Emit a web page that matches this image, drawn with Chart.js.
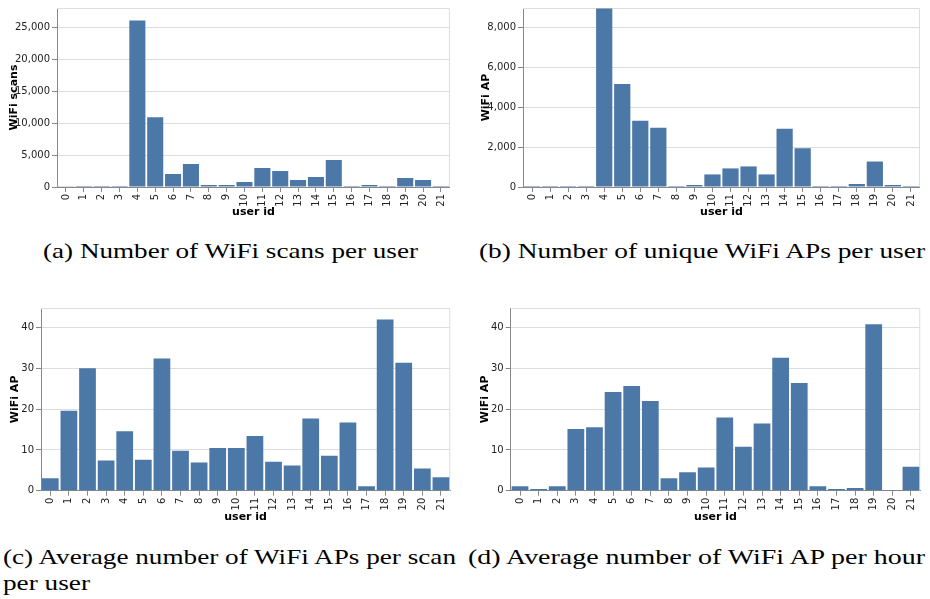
<!DOCTYPE html>
<html>
<head>
<meta charset="utf-8">
<script src="https://cdn.jsdelivr.net/npm/chart.js@4"></script>
<style>
  html, body { margin: 0; padding: 0; background: #fff; }
  body { width: 930px; height: 599px; position: relative; overflow: hidden; }
  .panel { position: absolute; }
  .cap {
    position: absolute;
    font-family: "Liberation Serif", serif;
    font-size: 21px;
    line-height: 21px;
    white-space: nowrap;
    color: #000;
    transform-origin: 0 0;
  }
</style>
</head>
<body>
<div class="panel" style="left:0;top:0;width:455px;height:222px"><canvas id="ca"></canvas></div>
<div class="panel" style="left:470px;top:0;width:455px;height:222px"><canvas id="cb"></canvas></div>
<div class="panel" style="left:0;top:300px;width:455px;height:225px"><canvas id="cc"></canvas></div>
<div class="panel" style="left:470px;top:300px;width:455px;height:225px"><canvas id="cd"></canvas></div>

<span class="cap" data-w="375" style="left:43px;top:241px">(a) Number of WiFi scans per user</span>
<span class="cap" data-w="446" style="left:479px;top:241px">(b) Number of unique WiFi APs per user</span>
<span class="cap" data-w="453" style="left:3px;top:547px">(c) Average number of WiFi APs per scan</span>
<span class="cap" data-w="87" style="left:3px;top:573px">per user</span>
<span class="cap" data-w="457" style="left:468px;top:547px">(d) Average number of WiFi AP per hour</span>

<script>
const userIds = ["0", "1", "2", "3", "4", "5", "6", "7", "8", "9", "10",
  "11", "12", "13", "14", "15", "16", "17", "18", "19", "20", "21"];

// (a) WiFi scans per user
const wifiScans = [30, 156, 156, 156, 26040, 10920, 2030, 3590, 310, 310, 780,
  2960, 2500, 1090, 1560, 4210, 156, 310, 156, 1400, 1090, 156];

// (b) unique WiFi APs per user
const uniqueAps = [50, 50, 50, 50, 8930, 5150, 3310, 2960, 50, 100, 630,
  930, 1030, 630, 2910, 1940, 50, 50, 150, 1275, 100, 50];

// (c) average APs per scan
const apsPerScan = [3.05, 19.6, 30.0, 7.4, 14.6, 7.6, 32.4, 9.8, 6.9, 10.5, 10.5,
  13.4, 7.1, 6.2, 17.7, 8.6, 16.75, 1.1, 42.0, 31.4, 5.45, 3.3];

// (d) average APs per hour
const apsPerHour = [1.1, 0.4, 1.1, 15.1, 15.55, 24.2, 25.65, 22.0, 3.05, 4.5, 5.7,
  17.95, 10.75, 16.5, 32.6, 26.4, 1.1, 0.4, 0.65, 40.8, 0.15, 5.9];

// y tick values
const scanTicks = [0, 5000, 10000, 15000, 20000, 25000];
const apTicks = [0, 2000, 4000, 6000, 8000];
const avgTicks = [0, 10, 20, 30, 40];

const yTitles = ["WiFi scans", "WiFi AP", "WiFi AP", "WiFi AP"];
const yMax = [28000, 8960, 44.8, 44.8];
const xTitle = "user id";

const BAR = "#4c78a8";
const FONT = "'DejaVu Sans', sans-serif";

// plot box per panel (px inside the panel)
const panels = [
  { id: "ca", w: 455, h: 222, l: 57, t: 7, r: 452, b: 187, yTitleX: 14, xTitleY: 211.7, data: wifiScans, ticks: scanTicks },
  { id: "cb", w: 455, h: 222, l: 53, t: 6, r: 452, b: 187, yTitleX: 15.7, xTitleY: 212, data: uniqueAps, ticks: apTicks },
  { id: "cc", w: 455, h: 225, l: 41, t: 4.3, r: 452, b: 190.7, yTitleX: 15, xTitleY: 216.7, data: apsPerScan, ticks: avgTicks },
  { id: "cd", w: 455, h: 225, l: 40.7, t: 4.3, r: 452, b: 190.7, yTitleX: 15, xTitleY: 216.7, data: apsPerHour, ticks: avgTicks },
];

const frame = {
  id: "frame",
  beforeDatasetsDraw(chart) {
    const a = chart.chartArea;
    const ctx = chart.ctx;
    ctx.save();
    ctx.strokeStyle = "#ddd";
    ctx.lineWidth = 1;
    ctx.beginPath();
    ctx.moveTo(a.left, a.top + 0.5);
    ctx.lineTo(a.right - 0.5, a.top + 0.5);
    ctx.lineTo(a.right - 0.5, a.bottom);
    ctx.stroke();
    ctx.restore();
  },
};

panels.forEach((p, i) => {
  new Chart(document.getElementById(p.id), {
    type: "bar",
    data: {
      labels: userIds,
      datasets: [{
        data: p.data,
        backgroundColor: BAR,
        borderWidth: 0,
        categoryPercentage: 1,
        barPercentage: 0.9,
      }],
    },
    options: {
      responsive: true,
      maintainAspectRatio: false,
      animation: false,
      layout: { padding: { left: 0, top: p.t, right: p.w - p.r, bottom: 0 } },
      plugins: { legend: { display: false }, tooltip: { enabled: false } },
      scales: {
        x: {
          grid: { display: true, drawOnChartArea: false, drawTicks: true, offset: false, tickLength: 5, tickColor: "#888" },
          border: { color: "#888", width: 1 },
          ticks: {
            autoSkip: false, minRotation: 90, maxRotation: 90, padding: 2,
            color: "#222", font: { family: FONT, size: 10 },
          },
          title: {
            display: true, text: xTitle, color: "#000",
            font: { family: FONT, size: 11, weight: "bold" },
            padding: { top: 0, bottom: p.h - p.xTitleY - 6.6 },
          },
          afterFit(scale) { scale.height = p.h - p.b; },
        },
        y: {
          min: 0,
          max: yMax[i],
          grid: { color: "#ddd", tickColor: "#888", tickLength: 5 },
          border: { color: "#888", width: 1 },
          ticks: {
            padding: 2,
            color: "#222", font: { family: FONT, size: 10 },
            callback: (v) => v.toLocaleString("en-US"),
          },
          afterBuildTicks(scale) {
            scale.ticks = p.ticks.map((v) => ({ value: v }));
          },
          title: {
            display: true, text: yTitles[i], color: "#000",
            font: { family: FONT, size: 11, weight: "bold" },
            padding: { top: p.yTitleX - 6.6, bottom: 0 },
          },
          afterFit(scale) { scale.width = p.l; },
        },
      },
    },
    plugins: [frame],
  });
});

document.querySelectorAll(".cap").forEach((el) => {
  const target = Number(el.dataset.w);
  const w = el.getBoundingClientRect().width;
  el.style.transform = `scaleX(${target / w})`;
});
</script>
</body>
</html>
